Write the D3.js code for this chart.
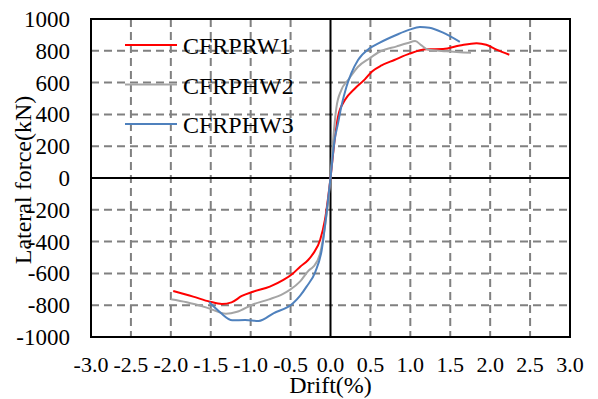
<!DOCTYPE html>
<html>
<head>
<meta charset="utf-8">
<script src="https://cdn.jsdelivr.net/npm/d3@7"></script>
<style>
  html, body { margin: 0; padding: 0; background: #fff; }
  text { font-family: "Times New Roman", "Liberation Serif", serif; fill: #000; }
</style>
</head>
<body>
<div id="chart"></div>
<script>
// series: [drift %, lateral force kN]
var seriesNames = ['CFRPRW1', 'CFRPHW2', 'CFRPHW3'];
var rw1 = [
  [-1.97,-711],[-1.72,-746],[-1.51,-778],[-1.36,-792],[-1.24,-782],[-1.11,-742],
  [-0.97,-715],[-0.76,-683],[-0.59,-641],[-0.47,-600],[-0.38,-558],[-0.28,-516],
  [-0.215,-474],[-0.13,-390],[-0.07,-264],[0,0],[0.052,239],[0.094,386],[0.18,490],
  [0.3,560],[0.43,620],[0.52,670],[0.64,708],[0.8,742],[0.99,782],[1.2,809],
  [1.41,811],[1.62,833],[1.83,848],[1.95,838],[2.08,807],[2.24,775]
];
var hw2 = [
  [-2.0,-762],[-1.8,-781],[-1.55,-815],[-1.31,-853],[-1.17,-841],[-0.98,-797],
  [-0.77,-763],[-0.6,-730],[-0.51,-704],[-0.38,-650],[-0.27,-580],[-0.215,-558],
  [-0.13,-474],[-0.07,-306],[0,0],[0.035,250],[0.073,440],[0.135,553],[0.22,616],
  [0.345,700],[0.49,753],[0.615,794],[0.83,828],[0.97,849],[1.06,861],[1.14,834],
  [1.22,808],[1.45,797],[1.76,787]
];
var hw3 = [
  [-1.52,-780],[-1.38,-846],[-1.23,-895],[-1.07,-893],[-0.9,-899],[-0.715,-851],
  [-0.47,-788],[-0.38,-740],[-0.3,-683],[-0.19,-590],[-0.11,-453],[-0.05,-222],
  [0,0],[0.052,239],[0.094,344],[0.135,448],[0.2,574],[0.26,658],[0.345,742],
  [0.49,816],[0.6,847],[0.83,901],[0.99,933],[1.12,950],[1.24,945],[1.41,914],[1.62,856]
];
var xTicks = [-3.0,-2.5,-2.0,-1.5,-1.0,-0.5,0.0,0.5,1.0,1.5,2.0,2.5,3.0];
var yTicks = [-1000,-800,-600,-400,-200,0,200,400,600,800,1000];

(function () {
  var width = 598, height = 399;
  var left = 91, right = 570, top = 19, bottom = 337;
  var colors = ['#ff0000', '#a5a5a5', '#4f81bd'];
  var data = [rw1, hw2, hw3];

  var x = d3.scaleLinear().domain([-3, 3]).range([left, right]);
  var y = d3.scaleLinear().domain([-1000, 1000]).range([bottom, top]);

  var svg = d3.select('#chart').append('svg')
    .attr('width', width).attr('height', height);

  // dashed grid
  svg.append('g').selectAll('line')
    .data(xTicks.filter(d => d !== 0 && Math.abs(d) !== 3)).enter().append('line')
    .attr('x1', d => x(d)).attr('x2', d => x(d))
    .attr('y1', top).attr('y2', bottom)
    .attr('stroke', '#808080').attr('stroke-width', 2).attr('stroke-dasharray', '8,5');
  svg.append('g').selectAll('line')
    .data(yTicks.filter(d => d !== 0 && Math.abs(d) !== 1000)).enter().append('line')
    .attr('y1', d => y(d)).attr('y2', d => y(d))
    .attr('x1', left).attr('x2', right)
    .attr('stroke', '#808080').attr('stroke-width', 2).attr('stroke-dasharray', '8,5');

  // zero axes
  svg.append('line').attr('x1', x(0)).attr('x2', x(0)).attr('y1', top).attr('y2', bottom)
    .attr('stroke', '#000').attr('stroke-width', 2);
  svg.append('line').attr('y1', y(0)).attr('y2', y(0)).attr('x1', left).attr('x2', right)
    .attr('stroke', '#000').attr('stroke-width', 2);

  // curves
  var line = d3.line().x(d => x(d[0])).y(d => y(d[1])).curve(d3.curveMonotoneX);
  svg.append('g').selectAll('path')
    .data(data).enter().append('path')
    .attr('d', line)
    .attr('fill', 'none')
    .attr('stroke', (d, i) => colors[i])
    .attr('stroke-width', 2);

  // frame
  svg.append('rect')
    .attr('x', left).attr('y', top)
    .attr('width', right - left).attr('height', bottom - top)
    .attr('fill', 'none').attr('stroke', '#000').attr('stroke-width', 2);

  // tick labels
  svg.append('g').selectAll('text')
    .data(yTicks).enter().append('text')
    .attr('x', 70).attr('y', d => y(d) + 8)
    .attr('text-anchor', 'end')
    .style('font-size', '23px')
    .text(d => d);
  svg.append('g').selectAll('text')
    .data(xTicks).enter().append('text')
    .attr('x', d => x(d)).attr('y', 372)
    .attr('text-anchor', 'middle')
    .style('font-size', '22px')
    .text(d => d.toFixed(1));

  // axis titles
  svg.append('text')
    .attr('x', x(0)).attr('y', 393)
    .attr('text-anchor', 'middle')
    .style('font-size', '24px')
    .text('Drift(%)');
  svg.append('text')
    .attr('transform', 'translate(31,180)rotate(-90)')
    .attr('text-anchor', 'middle')
    .style('font-size', '24px')
    .text('Lateral force(kN)');

  // legend
  var legend = svg.append('g').selectAll('g')
    .data(seriesNames).enter().append('g')
    .attr('transform', (d, i) => 'translate(0,' + [45, 84.5, 124][i] + ')');
  legend.append('line')
    .attr('x1', 125).attr('x2', 177)
    .attr('stroke', (d, i) => colors[i]).attr('stroke-width', 2);
  legend.append('text')
    .attr('x', 183).attr('y', 9)
    .style('font-size', '24px')
    .text(d => d);
})();
</script>
</body>
</html>
